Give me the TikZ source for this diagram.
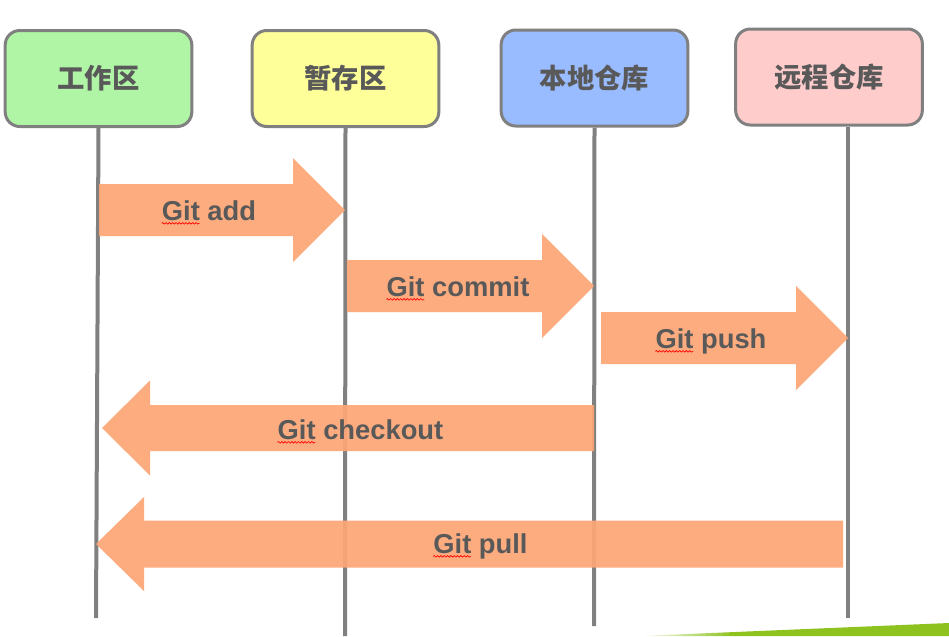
\documentclass[tikz,border=0pt]{standalone}
\usepackage{fontspec}
\setmainfont{Liberation Sans}
\newfontfamily\cjk{Noto Sans CJK SC}
\usetikzlibrary{decorations.pathmorphing}

\definecolor{boxgray}{HTML}{808080}
\definecolor{txtgray}{HTML}{595959}
\definecolor{workgreen}{HTML}{B0F5A5}
\definecolor{stageyellow}{HTML}{FFFF99}
\definecolor{localblue}{HTML}{99BBFF}
\definecolor{remotepink}{HTML}{FFCCCC}
\definecolor{arroworange}{HTML}{FCA676}
\definecolor{wedgegreen}{HTML}{8DC21F}

\pgfdeclarehorizontalshading{wedgefade}{100bp}{color(0bp)=(white); color(25bp)=(white); color(40bp)=(wedgegreen); color(100bp)=(wedgegreen)}

\tikzset{
  area/.style={draw=boxgray, line width=2.25pt, rounded corners=11pt,
    minimum width=140pt, minimum height=72pt, text=txtgray,
    font=\cjk\bfseries\fontsize{20.5}{24}\selectfont},
  lifeline/.style={boxgray, line width=3pt},
  cmdarrow/.style={fill=arroworange, fill opacity=0.93},
  cmd/.style={anchor=base, inner sep=0pt, text=txtgray,
    font=\bfseries\fontsize{20.5}{24}\selectfont},
  spell/.style={red, line width=0.5pt, decorate,
    decoration={snake, amplitude=0.6pt, segment length=2.5pt}}
}

% tail, head base, tip, y, shaft half width, head half width
\newcommand{\blockarrow}[6]{%
  \path[cmdarrow] (#1,#4-#5) -- (#2,#4-#5) -- (#2,#4-#6) -- (#3,#4)
    -- (#2,#4+#6) -- (#2,#4+#5) -- (#1,#4+#5) -- cycle;
}

\begin{document}
\begin{tikzpicture}[x=0.75pt,y=-0.75pt]
  \useasboundingbox[fill=white] (0,0) rectangle (949,636);

  % the four areas
  \node[area, fill=workgreen]   (work)   at (98.5,78.5) {工作区};
  \node[area, fill=stageyellow] (stage)  at (345.5,78.5) {暂存区};
  \node[area, fill=localblue]   (local)  at (594.5,78) {本地仓库};
  \node[area, fill=remotepink]  (remote) at (829,77) {远程仓库};

  % lifelines
  \coordinate (workend)   at (96,618);
  \coordinate (stageend)  at (345,636);
  \coordinate (localend)  at (594,626);
  \coordinate (remoteend) at (848,618);
  \draw[lifeline] (work.south) -- (workend);
  \draw[lifeline] (stage.south) -- (stageend);
  \draw[lifeline] (local.south) -- (localend);
  \draw[lifeline] (remote.south -| remoteend) -- (remoteend);

  % commands
  \blockarrow{99}{293}{345}{210}{26}{52}
  \blockarrow{347}{542}{594}{286}{26}{52}
  \blockarrow{601}{796}{848}{338}{26}{52}
  \blockarrow{594}{150}{102}{428}{23}{47.5}
  \blockarrow{843}{144}{96}{544}{23.5}{47}

  \node[cmd] (add)      at (209,220) {Git add};
  \node[cmd] (commit)   at (458,296) {Git commit};
  \node[cmd] (push)     at (711,348) {Git push};
  \node[cmd] (checkout) at (360.5,439) {Git checkout};
  \node[cmd] (pull)     at (480.5,553) {Git pull};
  \foreach \c in {add,commit,push,checkout,pull}
    \draw[spell] ([yshift=-2.5pt]\c.base west) -- ++(38,0);

  % slide decoration
  \shade[shading=wedgefade] (640,636) -- (949,623) -- (949,636) -- cycle;
\end{tikzpicture}
\end{document}
